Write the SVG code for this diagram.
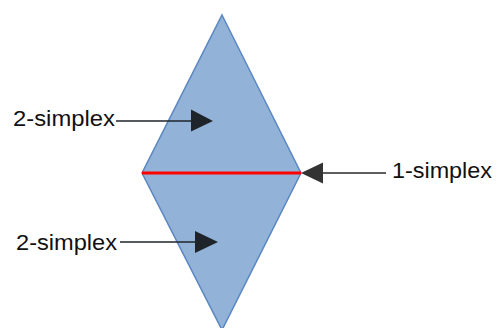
<svg xmlns="http://www.w3.org/2000/svg" width="496" height="328" viewBox="0 0 496 328">
<style>
.lbl{font-family:"Liberation Sans",Arial,sans-serif;font-size:22px;fill:#111}
.ln{stroke:#1f242b;stroke-width:1.5;fill:none}
.hd{fill:#1f242b}
</style>
<rect width="496" height="328" fill="#fff"/>
<g id="diamond">
<polygon points="222,15 301,173 222,330 142,173" fill="#92B2D7" stroke="#5A87C2" stroke-width="1.5"/>
</g>
<g id="edge">
<line x1="142" y1="173" x2="301" y2="173" stroke="#FF0000" stroke-width="3"/>
</g>
<g id="label-top">
<text class="lbl" x="13" y="126" textLength="102" lengthAdjust="spacingAndGlyphs">2-simplex</text>
</g>
<g id="label-bottom">
<text class="lbl" x="16" y="250" textLength="101" lengthAdjust="spacingAndGlyphs">2-simplex</text>
</g>
<g id="label-right">
<text class="lbl" x="392" y="178" textLength="100" lengthAdjust="spacingAndGlyphs">1-simplex</text>
</g>
<g id="connectors">
<line class="ln" x1="116" y1="121" x2="193" y2="121"/>
<polygon class="hd" points="191,109.5 213,121 191,131.5"/>
<line class="ln" x1="120" y1="242" x2="197" y2="242"/>
<polygon class="hd" points="195,231 218,242 195,253"/>
<line x1="386" y1="173" x2="321" y2="173" stroke="#2a2a2a" stroke-width="1.5"/>
<polygon points="323,162.5 301,173 323,183.5" fill="#333"/>
</g>
</svg>
